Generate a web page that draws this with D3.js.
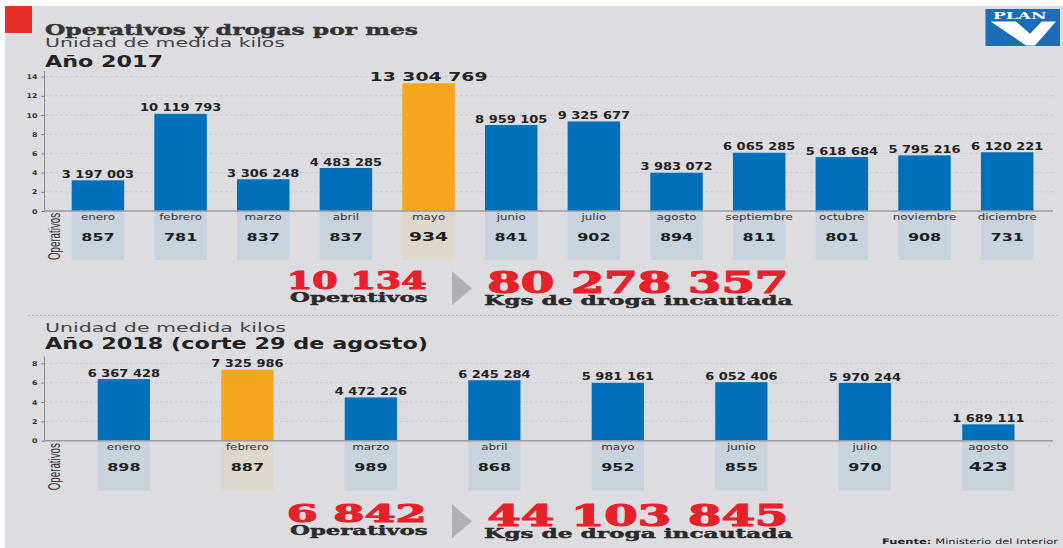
<!DOCTYPE html>
<html>
<head>
<meta charset="utf-8">
<script src="https://cdn.jsdelivr.net/npm/d3@7"></script>
<style>
  body { margin: 0; background: #fff; }
  svg { display: block; }
</style>
</head>
<body>
<svg id="chart" width="1063" height="548"></svg>
<script>
// ---- data (kilos per month, operativos per month) ----
const months2017 = ["enero", "febrero", "marzo", "abril", "mayo", "junio", "julio",
  "agosto", "septiembre", "octubre", "noviembre", "diciembre"];
const kilos2017 = [3197003, 10119793, 3306248, 4483285, 13304769, 8959105, 9325677,
  3983072, 6065285, 5618684, 5795216, 6120221];
const operativos2017 = [857, 781, 837, 837, 934, 841, 902, 894, 811, 801, 908, 731];

const months2018 = ["enero", "febrero", "marzo", "abril", "mayo", "junio", "julio", "agosto"];
const kilos2018 = [6367428, 7325986, 4472226, 6245284, 5981161, 6052406, 5970244, 1689111];
const operativos2018 = [898, 887, 989, 868, 952, 855, 970, 423];

const ticks2017 = [0, 2, 4, 6, 8, 10, 12, 14];
const ticks2018 = [0, 2, 4, 6, 8];

// totals as printed in the source
const totalOps2017 = "10 134";
const totalKgs2017 = "80 278 357";
const totalOps2018 = "6 842";
const totalKgs2018 = "44 103 845";

const SANS = "'DejaVu Sans', sans-serif";
const SERIF = "'DejaVu Serif', serif";
const BLUE = "#0070ba";
const ORANGE = "#f6a61e";
const BOX = "#c8d3de";
const BOX_HI = "#ddd8cb";
const RED = "#e8202a";

const fmt = d3.formatLocale({ decimal: ",", thousands: " ", grouping: [3], currency: ["", ""] }).format(",d");

const svg = d3.select("#chart");

// background
svg.append("rect").attr("x", 5).attr("y", 6).attr("width", 1058).attr("height", 542).attr("fill", "#dddce0");
svg.append("rect").attr("x", 5).attr("y", 6).attr("width", 27).attr("height", 27).attr("fill", "#e8312a");

// fixed text, stretched to the width it takes in the source
function fitText(x, y, str, width, size, opts = {}) {
  const fill = opts.fill || "#333";
  return svg.append("text")
    .attr("x", x).attr("y", y)
    .attr("font-family", opts.family || SANS)
    .attr("font-weight", opts.weight || "normal")
    .attr("font-size", size)
    .attr("fill", fill)
    .attr("stroke", opts.stroke ? fill : "none")
    .attr("stroke-width", opts.stroke || 0)
    .attr("textLength", width)
    .attr("lengthAdjust", "spacingAndGlyphs")
    .text(str);
}

fitText(45, 34.7, "Operativos y drogas por mes", 373, 15, { family: SERIF, weight: "bold", fill: "#333", stroke: 0.4 });
fitText(45, 46.7, "Unidad de medida kilos", 240, 11.5, { fill: "#444" });
fitText(45, 66.5, "Año 2017", 118, 15, { weight: "bold", fill: "#222" });
fitText(45, 331.5, "Unidad de medida kilos", 241, 11.5, { fill: "#444" });
fitText(45, 349, "Año 2018 (corte 29 de agosto)", 383, 15, { weight: "bold", fill: "#222" });

// logo
svg.append("rect").attr("x", 985.5).attr("y", 9).attr("width", 74.5).attr("height", 37).attr("fill", "#1b6db5");
fitText(993, 19, "PLAN", 53.7, 10, { family: SERIF, weight: "bold", fill: "#fff" });
svg.append("polygon")
  .attr("points", "990.7,21.5 1016,21.5 1030,33.8 1041.7,21.5 1056,21.5 1035,45.5 1026,45.5")
  .attr("fill", "#fff");

function drawPanel(cfg) {
  const g = svg.append("g");
  const x = d3.scaleBand().domain(cfg.months).range(cfg.xRange)
    .paddingInner(cfg.pad).paddingOuter(cfg.pad / 2);
  const y = d3.scaleLinear().domain([0, d3.max(cfg.ticks)]).range([cfg.base, cfg.top]);
  const peak = d3.maxIndex(cfg.kilos);
  const rows = cfg.months.map((m, i) => ({ m, i, kg: cfg.kilos[i], ops: cfg.ops[i] }));
  const bw = x.bandwidth();

  g.selectAll(".grid").data(cfg.ticks.filter(t => t > 0)).join("line")
    .attr("x1", 45).attr("x2", 1053)
    .attr("y1", d => y(d)).attr("y2", d => y(d))
    .attr("stroke", "#c9c8cc").attr("stroke-width", 0.8).attr("stroke-dasharray", "3,2");

  const ax = g.append("g").attr("transform", "translate(44.5,0)")
    .call(d3.axisLeft(y).tickValues(cfg.ticks).tickSize(3).tickPadding(3));
  ax.select(".domain").remove();
  ax.selectAll("line").attr("stroke", "#777");
  ax.selectAll("text")
    .attr("font-family", SANS).attr("font-weight", "bold").attr("font-size", 6.5)
    .attr("fill", "#333").attr("transform", "scale(1.2,1)");

  g.append("line").attr("x1", 44.5).attr("x2", 44.5).attr("y1", cfg.axisTop).attr("y2", cfg.base)
    .attr("stroke", "#8d8c90").attr("stroke-width", 1);

  // operativos boxes
  g.selectAll(".box").data(rows).join("rect")
    .attr("x", d => x(d.m)).attr("y", cfg.base)
    .attr("width", bw).attr("height", cfg.boxBottom - cfg.base)
    .attr("fill", d => d.i === peak ? BOX_HI : BOX);

  // bars
  g.selectAll(".bar").data(rows).join("rect")
    .attr("x", d => x(d.m)).attr("y", d => y(d.kg / 1e6))
    .attr("width", bw).attr("height", d => cfg.base - y(d.kg / 1e6))
    .attr("fill", d => d.i === peak ? ORANGE : BLUE);

  g.append("line").attr("x1", 44.5).attr("x2", 1053).attr("y1", cfg.base).attr("y2", cfg.base)
    .attr("stroke", "#9c9b9f").attr("stroke-width", 1.5);

  const big = d => cfg.bigPeak && d.i === peak;
  g.selectAll(".val").data(rows).join("text")
    .attr("transform", d => `translate(${x(d.m) + bw / 2},${y(d.kg / 1e6) - 2.4}) scale(${big(d) ? 1.45 : 1.3},1)`)
    .attr("text-anchor", "middle")
    .attr("font-family", SANS).attr("font-weight", "bold")
    .attr("font-size", d => big(d) ? 13 : 10)
    .attr("fill", "#222")
    .text(d => fmt(d.kg));

  g.selectAll(".month").data(rows).join("text")
    .attr("transform", d => `translate(${x(d.m) + bw / 2},${cfg.base + 9.3}) scale(1.4,1)`)
    .attr("text-anchor", "middle")
    .attr("font-family", SANS).attr("font-size", 8.5)
    .attr("fill", "#333")
    .text(d => d.m);

  const bigOps = d => d.m === cfg.bigOps;
  g.selectAll(".ops").data(rows).join("text")
    .attr("transform", d => `translate(${x(d.m) + bw / 2},${cfg.base + cfg.opsDy}) scale(${bigOps(d) ? 1.5 : 1.45},1)`)
    .attr("text-anchor", "middle")
    .attr("font-family", SANS).attr("font-weight", "bold")
    .attr("font-size", d => bigOps(d) ? 12.5 : 11)
    .attr("fill", "#1e1e1e")
    .text(d => d.ops);

  g.append("text")
    .attr("transform", `translate(59.5,${(cfg.base + cfg.boxBottom) / 2 + 1}) rotate(-90)`)
    .attr("text-anchor", "middle")
    .attr("font-family", "'Liberation Sans Narrow', 'Liberation Sans', sans-serif")
    .attr("font-size", 17)
    .attr("fill", "#333")
    .attr("textLength", 47).attr("lengthAdjust", "spacingAndGlyphs")
    .text("Operativos");
}

drawPanel({
  months: months2017, kilos: kilos2017, ops: operativos2017, ticks: ticks2017,
  xRange: [56.6, 1048.5], pad: 0.365, base: 211, top: 76.6, axisTop: 71,
  boxBottom: 260, opsDy: 29.5, bigPeak: true, bigOps: "mayo"
});
drawPanel({
  months: months2018, kilos: kilos2018, ops: operativos2018, ticks: ticks2018,
  xRange: [62.1, 1050.1], pad: 0.577, base: 440.7, top: 363.3, axisTop: 356.7,
  boxBottom: 490.7, opsDy: 30.5, bigPeak: false, bigOps: "agosto"
});

function drawTotals(dy, ops, kgs) {
  fitText(286.7, 288.7 + dy, ops, 140, 24, { family: SERIF, weight: "bold", fill: RED, stroke: 1 });
  fitText(290, 301.6 + dy, "Operativos", 137.7, 12, { family: SERIF, weight: "bold", fill: "#2a2a2a", stroke: 0.4 });
  svg.append("polygon")
    .attr("points", `452,${271.3 + dy} 472,${288.3 + dy} 452,${305.3 + dy}`)
    .attr("fill", "#b1b0b4");
  fitText(487.3, 292.5 + dy, kgs, 301, 30, { family: SERIF, weight: "bold", fill: RED, stroke: 1.2 });
  fitText(484, 305 + dy, "Kgs de droga incautada", 308.5, 12.5, { family: SERIF, weight: "bold", fill: "#2a2a2a", stroke: 0.4 });
}
drawTotals(0, totalOps2017, totalKgs2017);
drawTotals(233, totalOps2018, totalKgs2018);

// separator
svg.append("line").attr("x1", 28).attr("x2", 1058).attr("y1", 315.5).attr("y2", 315.5)
  .attr("stroke", "#a8a7ab").attr("stroke-width", 1).attr("stroke-dasharray", "1.5,2.5");

// source
const src = svg.append("text")
  .attr("x", 882).attr("y", 544)
  .attr("font-family", SANS).attr("font-size", 7.5).attr("fill", "#222")
  .attr("textLength", 176).attr("lengthAdjust", "spacingAndGlyphs");
src.append("tspan").attr("font-weight", "bold").text("Fuente: ");
src.append("tspan").text("Ministerio del Interior");
</script>
</body>
</html>
